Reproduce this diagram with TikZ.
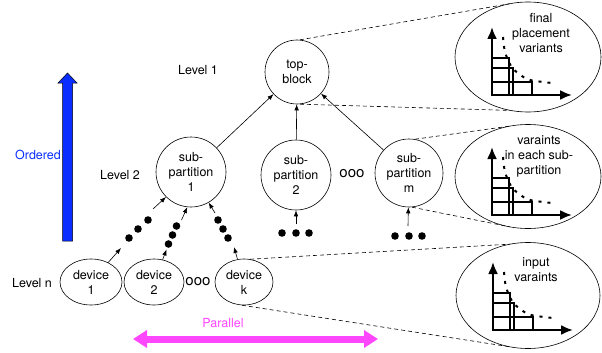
\documentclass[tikz,border=0pt]{standalone}
\usepackage{fontspec}
\setmainfont{TeX Gyre Heros}
\usetikzlibrary{arrows.meta,shapes.geometric}
\definecolor{orderblue}{RGB}{10,45,255}
\definecolor{parpink}{RGB}{255,70,255}

\begin{document}
\begin{tikzpicture}[x=1pt,y=-1pt,>={Latex[length=6pt,width=4.5pt]},line width=0.6pt,
    every node/.style={font=\fontsize{12.5}{15}\selectfont, align=center},
    part/.style={draw, circle, inner sep=0pt, minimum size=70pt},
    dev/.style={draw, ellipse, inner sep=0pt, minimum width=60pt, minimum height=46pt},
    zoombox/.style={draw, ellipse, inner sep=0pt, outer sep=0pt},
    gap/.style={font=\fontsize{15}{15}\selectfont},
    link/.style={dash pattern=on 4pt off 3pt}]
      \useasboundingbox (0,0) rectangle (602,353);

      % Hierarchy
        \node[part, minimum size=64pt] (top) at (297,72) {top-\\block};
        \node[part] (sub1) at (191,172) {sub-\\partition\\1};
        \node[part] (sub2) at (296,175) {sub-\\partition\\2};
        \node[part, minimum size=68pt] (subm) at (409,173) {sub-\\partition\\m};
        \node[gap] (gap2) at (352,174) {ooo};

        \node[dev, minimum width=62pt] (dev1) at (91,282) {device\\1};
        \node[dev] (dev2) at (154,282) {device\\2};
        \node[dev, minimum width=58pt] (devk) at (244,282) {device\\k};
        \node[gap] (gap1) at (198,282) {ooo};

        \draw [->] (sub1) -- (top);
        \draw [->] (sub2) -- (top);
        \draw [->] (subm) -- (top);

        % Dot chains
        \coordinate (c1a) at (121,248);
        \coordinate (c1b) at (153,209);
        \coordinate (c2a) at (166.5,249.5);
        \coordinate (c2b) at (181.5,220);
        \coordinate (cka) at (234,247);
        \coordinate (ckb) at (215,213);
        \coordinate (c3) at (296,224);
        \coordinate (c4) at (408,226);
        \foreach \p in {(129,238),(138,229),(148,220),
                        (168.5,244),(172.5,235),(176.5,226),
                        (218,220),(223,229),(228,238),
                        (282,233),(296,233),(309,233),
                        (395,236),(409,236),(422,236)}
          \fill \p circle (3.8);

        \draw [->] (dev1) -- (c1a);
        \draw [->] (c1b) -- (sub1.-135);
        \draw [->] (dev2) -- (c2a);
        \draw [->] (c2b) -- (sub1.-96);
        \draw [->] (devk) -- (cka);
        \draw [->] (ckb) -- (sub1.-60);
        \draw [->] (c3) -- (sub2);
        \draw [->] (c4) -- (subm);

        % Levels
        \node (lvl1) at (198,70) {Level 1};
        \node (lvl2) at (120,175) {Level 2};
        \node (lvln) at (32,283) {Level n};

        % Ordered / Parallel
        \filldraw[fill=orderblue, draw=black, line width=0.5pt] (62.5,241) -- (62.5,83) -- (58,83)
          -- (67.5,73) -- (77,83) -- (72.5,83) -- (72.5,241) -- cycle;
        \node[text=orderblue] (ord) at (38,155) {Ordered};
        \coordinate (pl) at (133,339);
        \coordinate (pr) at (378,339);
        \draw[parpink, line width=7pt, {Triangle[length=14pt,width=17pt]}-{Triangle[length=14pt,width=17pt]}] (pl) -- (pr);
        \node[text=parpink] (par) at (223,323) {Parallel};

        % Zoomed variants
        \node[zoombox, minimum width=146pt, minimum height=110pt] (ztop) at (528,57) {};
        \node[zoombox, minimum width=146pt, minimum height=104pt] (zmid) at (528,176.5) {};
        \node[zoombox, minimum width=144pt, minimum height=106pt] (zbot) at (528,295.5) {};
        \node (ttop) at (541,33) {final\\placement\\variants};
        \node (tmid) at (539,156) {varaints\\in each sub-\\partition};
        \node (tbot) at (536,270) {input\\varaints};

        \foreach \cx/\cy in {492/95, 492/215, 493/330} {
          \begin{scope}[shift={(\cx,\cy)}]
            \draw[line width=1.8pt] (0,0) rectangle (16.7,-36.7);
            \draw[line width=1.8pt] (0,0) rectangle (21,-26.7);
            \draw[line width=1.8pt] (0,0) rectangle (40,-13.3);
            \draw[line width=2.2pt, -{Latex[length=12pt,width=10pt]}] (0,1) -- (0,-68);
            \draw[line width=2.2pt, -{Latex[length=12pt,width=10pt]}] (-1,0) -- (80,0);
            \draw[line width=2pt, dash pattern=on 3pt off 6pt] plot[smooth] coordinates
              {(11,-58) (13,-43) (19,-29) (27,-21) (38,-15) (60,-12)};
          \end{scope}
        }

        \draw [link] (top.85) -- (ztop.109);
        \draw [link] (top.-85) -- (ztop.252);
        \draw [link] (subm.80) -- (zmid.109);
        \draw [link] (subm.-85) -- (zmid.250);
        \draw [link] (devk.75) -- (zbot.109);
        \draw [link] (devk.-95) -- (zbot.251);

    \end{tikzpicture}
\end{document}
